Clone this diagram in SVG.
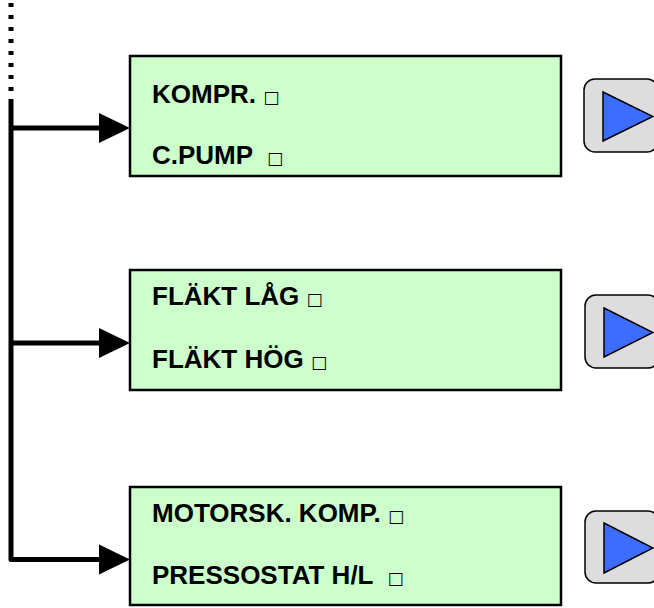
<svg xmlns="http://www.w3.org/2000/svg" width="654" height="608" viewBox="0 0 654 608">
<defs>
<style>
.box{fill:#ccffcc;stroke:#000;stroke-width:2.5}
.lbl{font-family:"Liberation Sans",Arial,sans-serif;font-weight:bold;font-size:26px;fill:#000;white-space:pre}
.sq{font-family:"DejaVu Sans",sans-serif;font-weight:normal;font-size:17px}
.btn{fill:#dddddd;stroke:#000;stroke-width:1.5}
.tri{fill:#3d6dff;stroke:#000;stroke-width:1.5;stroke-linejoin:miter}
.wire{fill:none;stroke:#000;stroke-width:5}
.head{fill:#000}
</style>
</defs>
<g id="connectors">
<line x1="11" y1="3" x2="11" y2="100" stroke="#000" stroke-width="5" stroke-dasharray="4 8"/>
<path class="wire" d="M11,100 V559.5 H100" stroke-linejoin="round"/>
<line class="wire" x1="11" y1="128" x2="100" y2="128"/>
<line class="wire" x1="11" y1="343" x2="100" y2="343"/>
<path class="head" d="M99,113 L130,128 L99,143 Z"/>
<path class="head" d="M99,328 L130,343 L99,358 Z"/>
<path class="head" d="M99,544.5 L130,559.5 L99,574.5 Z"/>
</g>
<g id="node1">
<rect class="box" x="130" y="56" width="431" height="120"/>
<text class="lbl" x="152" y="103">KOMPR. <tspan class="sq">□</tspan></text>
<text class="lbl" x="152" y="164">C.PUMP  <tspan class="sq">□</tspan></text>
</g>
<g id="node2">
<rect class="box" x="130" y="270" width="431" height="120"/>
<text class="lbl" x="152" y="305">FLÄKT LÅG <tspan class="sq">□</tspan></text>
<text class="lbl" x="152" y="368">FLÄKT HÖG <tspan class="sq">□</tspan></text>
</g>
<g id="node3">
<rect class="box" x="130" y="487" width="431" height="118"/>
<text class="lbl" x="152" y="522">MOTORSK. KOMP. <tspan class="sq">□</tspan></text>
<text class="lbl" x="152" y="584">PRESSOSTAT H/L  <tspan class="sq">□</tspan></text>
</g>
<g id="button1">
<rect class="btn" x="584" y="79" width="74" height="73" rx="11"/>
<path class="tri" d="M603,92 L653,116.5 L603,141 Z"/>
</g>
<g id="button2">
<rect class="btn" x="585" y="295" width="74" height="73" rx="11"/>
<path class="tri" d="M604,308 L653,332.5 L604,357 Z"/>
</g>
<g id="button3">
<rect class="btn" x="585" y="511" width="74" height="72" rx="11"/>
<path class="tri" d="M604,523 L653,548 L604,573 Z"/>
</g>
</svg>
